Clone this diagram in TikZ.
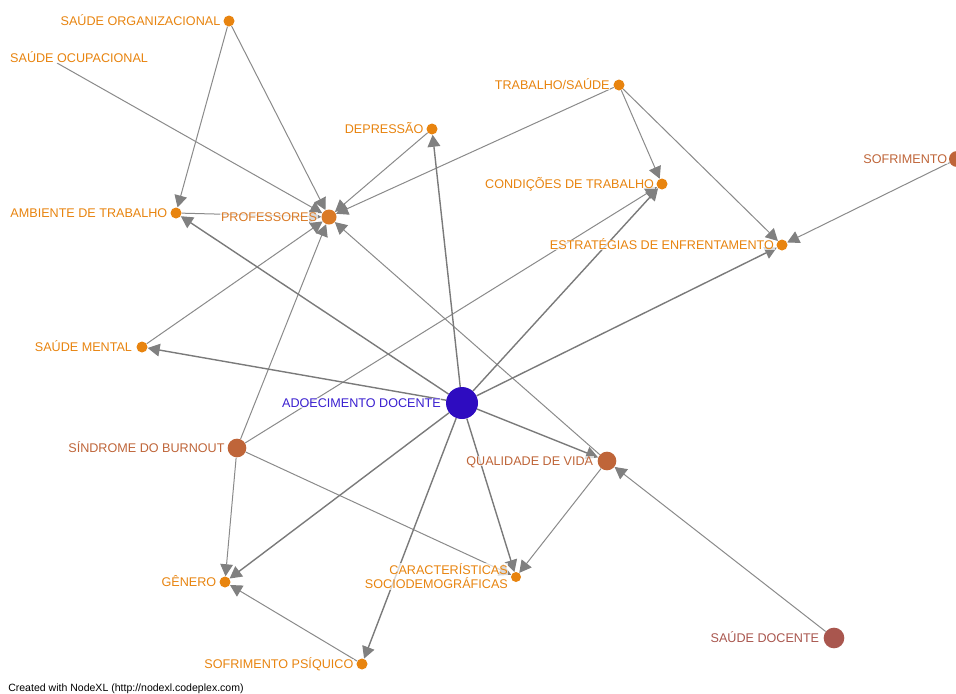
\documentclass[tikz,border=0pt]{standalone}
\usepackage{fontspec}
\setmainfont{Liberation Sans}
\usetikzlibrary{arrows.meta}
\pgfdeclarelayer{bg}
\pgfsetlayers{bg,main}
\definecolor{cor}{HTML}{E8840F}
\definecolor{cprof}{HTML}{DA7A26}
\definecolor{cbrown}{HTML}{BF6539}
\definecolor{cdoc}{HTML}{A9564E}
\definecolor{cadoe}{HTML}{2E0CC0}
\definecolor{cadoetxt}{HTML}{3A1FD0}
\definecolor{cedge}{HTML}{8A8A8A}
\definecolor{cedgeb}{HTML}{7A7A7A}
\definecolor{ctip}{HTML}{808080}
\begin{document}
\begin{tikzpicture}[x=0.75pt,y=-0.75pt,
  vx/.style={circle,inner sep=0pt,minimum size=#1},
  lab/.style={font=\fontsize{9.45}{10.5}\selectfont, inner sep=0.5pt, text height=6.7pt, text depth=0pt,
    fill=white, fill opacity=0.7, text opacity=1, anchor=east},
  lnk/.style={draw=cedge, line width=0.75pt, -{Triangle[length=9pt,width=9.5pt,color=ctip]}},
  lnkb/.style={draw=cedgeb, line width=1.05pt, -{Triangle[length=9pt,width=9.5pt,color=ctip]}}]
\useasboundingbox (0,0) rectangle (956,693);

% dots
\node[vx=8.25pt, fill=cor] (so) at (229,21) {};
\coordinate (soc) at (57,63);
\node[vx=8.25pt, fill=cor] (dep) at (432,129) {};
\node[vx=8.25pt, fill=cor] (ts) at (619,85) {};
\node[vx=8.25pt, fill=cor] (cond) at (662,184) {};
\node[vx=12pt, fill=cbrown] (sof) at (957,159) {};
\node[vx=8.25pt, fill=cor] (est) at (782,245) {};
\node[vx=8.25pt, fill=cor] (amb) at (176,213) {};
\node[vx=11.25pt, fill=cprof] (prof) at (329,217) {};
\node[vx=8.25pt, fill=cor] (sm) at (142,347) {};
\node[vx=24pt, fill=cadoe] (ad) at (462,403) {};
\node[vx=14pt, fill=cbrown] (sb) at (237,448) {};
\node[vx=14pt, fill=cbrown] (qv) at (607,461) {};
\node[vx=7.5pt, fill=cor] (car) at (516,577) {};
\node[vx=8.25pt, fill=cor] (gen) at (225,582) {};
\node[vx=8.25pt, fill=cor] (sp) at (362,664) {};
\node[vx=15.5pt, fill=cdoc] (sd) at (834,638) {};

% edges
\begin{pgfonlayer}{bg}
\draw[lnk] (so) -- (amb);
\draw[lnk] (so) -- (prof);
\draw[lnk] (soc) -- (prof);
\draw[lnk] (dep) -- (prof);
\draw[lnk] (ts) -- (prof);
\draw[lnk] (ts) -- (cond);
\draw[lnk] (ts) -- (est);
\draw[lnk] (sof) -- (est);
\draw[lnk] (amb) -- (prof);
\draw[lnk] (sm) -- (prof);
\draw[lnk] (sb) -- (prof);
\draw[lnk] (qv) -- (prof);
\draw[lnk] (sb) -- (cond);
\draw[lnk] (sb) -- (gen);
\draw[lnk] (sb) -- (car);
\draw[lnk] (qv) -- (car);
\draw[lnk] (sp) -- (gen);
\draw[lnk] (sd) -- (qv);
\draw[lnkb] (ad) -- (dep);
\draw[lnkb] (ad) -- (cond);
\draw[lnkb] (ad) -- (est);
\draw[lnkb] (ad) -- (amb);
\draw[lnkb] (ad) -- (sm);
\draw[lnkb] (ad) -- (gen);
\draw[lnkb] (ad) -- (sp);
\draw[lnkb] (ad) -- (car);
\draw[lnkb] (ad) -- (qv);
\end{pgfonlayer}

% labels
\node[lab, text=cor] (lso) at ([xshift=-1.5pt]so.west) {SAÚDE ORGANIZACIONAL};
\node[lab, text=cor, anchor=west] (lsoc) at (9.3,58) {SAÚDE OCUPACIONAL};
\node[lab, text=cor] (ldep) at ([xshift=-1.5pt]dep.west) {DEPRESSÃO};
\node[lab, text=cor] (lts) at ([xshift=-2pt]ts.west) {TRABALHO/SAÚDE};
\node[lab, text=cor] (lcond) at ([xshift=-1pt]cond.west) {CONDIÇÕES DE TRABALHO};
\node[lab, text=cbrown] (lsof) at ([xshift=-0.5pt]sof.west) {SOFRIMENTO};
\node[lab, text=cor] (lest) at ([xshift=-1pt]est.west) {ESTRATÉGIAS DE ENFRENTAMENTO};
\node[lab, text=cor] (lamb) at ([xshift=-1.5pt]amb.west) {AMBIENTE DE TRABALHO};
\node[lab, text=cprof] (lprof) at ([xshift=-2.5pt]prof.west) {PROFESSORES};
\node[lab, text=cor] (lsm) at ([xshift=-2.5pt]sm.west) {SAÚDE MENTAL};
\node[lab, text=cadoetxt] (lad) at ([xshift=-3pt]ad.west) {ADOECIMENTO DOCENTE};
\node[lab, text=cbrown] (lsb) at ([xshift=-1.5pt]sb.west) {SÍNDROME DO BURNOUT};
\node[lab, text=cbrown] (lqv) at ([xshift=-2.5pt]qv.west) {QUALIDADE DE VIDA};
\node[lab, text=cor, text height=, text depth=, align=right] (lcar) at ([xshift=-1.5pt,yshift=0.5pt]car.west) {CARACTERÍSTICAS\\SOCIODEMOGRÁFICAS};
\node[lab, text=cor] (lgen) at ([xshift=-1.5pt]gen.west) {GÊNERO};
\node[lab, text=cor] (lsp) at ([xshift=-1.5pt]sp.west) {SOFRIMENTO PSÍQUICO};
\node[lab, text=cdoc] (lsd) at ([xshift=-2.5pt]sd.west) {SAÚDE DOCENTE};

\node[anchor=west, inner sep=0pt, font=\fontsize{7.9}{9}\selectfont] (foot) at (8,689) {Created with NodeXL (http://nodexl.codeplex.com)};
\end{tikzpicture}
\end{document}
